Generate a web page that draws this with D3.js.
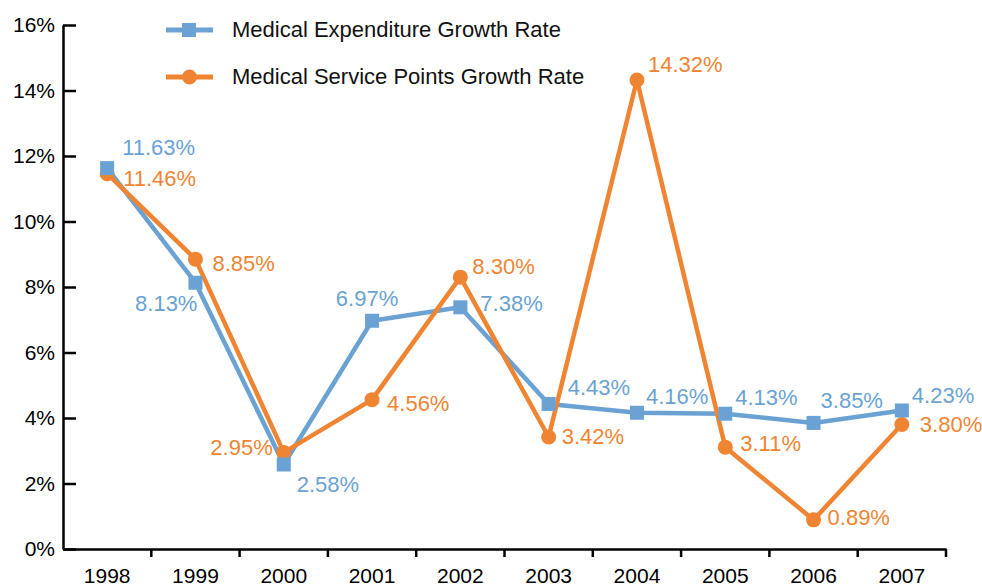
<!DOCTYPE html>
<html>
<head>
<meta charset="utf-8">
<script src="https://cdn.jsdelivr.net/npm/d3@7"></script>
<style>
  body{margin:0;background:#fff;}
  svg{font-family:"Liberation Sans",Arial,sans-serif;}
</style>
</head>
<body>
<div class="box"></div>
<script>
const years=['1998','1999','2000','2001','2002','2003','2004','2005','2006','2007'];
const expenditure=[11.63,8.13,2.58,6.97,7.38,4.43,4.16,4.13,3.85,4.23];
const servicePoints=[11.46,8.85,2.95,4.56,8.30,3.42,14.32,3.11,0.89,3.80];
const yTicks=[0,2,4,6,8,10,12,14,16];
const seriesNames=['Medical Expenditure Growth Rate','Medical Service Points Growth Rate'];

// label placement (offset from point): [dx, dy, anchor]
const expLabelPos=[[15,-21,'start'],[2,21,'end'],[13,20,'start'],[-5,-22,'middle'],[20,-4,'start'],
                   [19,-16,'start'],[9,-16,'start'],[10,-16,'start'],[7,-22,'start'],[10,-15,'start']];
const svcLabelPos=[[16,5,'start'],[17,4,'start'],[-11,-5,'end'],[15,4,'start'],[12,-11,'start'],
                   [13,0,'start'],[11,-16,'start'],[15,-4,'start'],[14,-2,'start'],[18,0,'start']];

const dims={width:982,height:586,left:63,right:946,top:25,bottom:549};
const colBlue='#6aa3d3', colOrange='#ef8533';

const svg=d3.select('.box')
    .append('svg')
    .attr('width',dims.width)
    .attr('height',dims.height);

const x=d3.scaleBand()
    .domain(years)
    .range([dims.left,dims.right])
    .padding(0);
const y=d3.scaleLinear()
    .domain([0,16])
    .range([dims.bottom,dims.top]);

// y axis, ticks pointing inward
const yAxis=d3.axisLeft(y)
    .tickValues(yTicks)
    .tickSizeInner(-13)
    .tickSizeOuter(0)
    .tickPadding(8)
    .tickFormat(d=>d+'%');
const gy=svg.append('g')
    .attr('transform',`translate(${dims.left},0)`)
    .call(yAxis);
gy.selectAll('text').attr('font-size',21).attr('fill','#000').attr('font-family','Liberation Sans, Arial, sans-serif');

// x axis, labels centred, ticks on band edges
const xAxis=d3.axisBottom(x)
    .tickSize(0)
    .tickSizeOuter(0)
    .tickPadding(19);
const gx=svg.append('g')
    .attr('transform',`translate(0,${dims.bottom})`)
    .call(xAxis);
gx.selectAll('text').attr('font-size',21).attr('fill','#000').attr('font-family','Liberation Sans, Arial, sans-serif');
gx.selectAll('.edge')
    .data(years)
    .enter()
    .append('line')
    .attr('class','edge')
    .attr('x1',d=>x(d)+x.bandwidth())
    .attr('x2',d=>x(d)+x.bandwidth())
    .attr('y1',0)
    .attr('y2',8)
    .attr('stroke','#000')
    .attr('stroke-width',2.5);

svg.selectAll('.domain,.tick line').attr('stroke','#000').attr('stroke-width',2.5);

const cx=(d,i)=>x(years[i])+x.bandwidth()/2;
const line=d3.line()
    .x((d,i)=>cx(d,i))
    .y(d=>y(d));

const drawLine=(vals,col)=>{
    svg.append('path')
        .datum(vals)
        .attr('d',line)
        .attr('fill','none')
        .attr('stroke',col)
        .attr('stroke-width',4.5)
        .attr('stroke-linejoin','round');
};
drawLine(expenditure,colBlue);
drawLine(servicePoints,colOrange);

svg.append('g').selectAll('circle')
    .data(servicePoints)
    .enter()
    .append('circle')
    .attr('cx',cx)
    .attr('cy',d=>y(d))
    .attr('r',7.5)
    .attr('fill',colOrange);

svg.append('g').selectAll('rect')
    .data(expenditure)
    .enter()
    .append('rect')
    .attr('x',(d,i)=>cx(d,i)-7)
    .attr('y',d=>y(d)-7)
    .attr('width',14)
    .attr('height',14)
    .attr('fill',colBlue);

const drawLabels=(vals,pos,col)=>{
    svg.append('g').selectAll('text')
        .data(vals)
        .enter()
        .append('text')
        .attr('x',(d,i)=>cx(d,i)+pos[i][0])
        .attr('y',(d,i)=>y(d)+pos[i][1])
        .attr('text-anchor',(d,i)=>pos[i][2])
        .attr('dominant-baseline','central')
        .attr('font-size',22)
        .attr('fill',col)
        .text(d=>d.toFixed(2)+'%');
};
drawLabels(expenditure,expLabelPos,colBlue);
drawLabels(servicePoints,svcLabelPos,colOrange);

// legend
const legend=svg.append('g').attr('class','legend');
const items=[{name:seriesNames[0],col:colBlue,shape:'square',y:30},
             {name:seriesNames[1],col:colOrange,shape:'circle',y:77}];
items.forEach(it=>{
    legend.append('line')
        .attr('x1',166).attr('x2',213)
        .attr('y1',it.y).attr('y2',it.y)
        .attr('stroke',it.col)
        .attr('stroke-width',5);
    if(it.shape=='square'){
        legend.append('rect')
            .attr('x',182).attr('y',it.y-7)
            .attr('width',14).attr('height',14)
            .attr('fill',it.col);
    }else{
        legend.append('circle')
            .attr('cx',189.5).attr('cy',it.y)
            .attr('r',7.5)
            .attr('fill',it.col);
    }
    legend.append('text')
        .attr('x',232)
        .attr('y',it.y-1)
        .attr('dominant-baseline','central')
        .attr('font-size',22)
        .attr('fill','#111')
        .text(it.name);
});
</script>
</body>
</html>
